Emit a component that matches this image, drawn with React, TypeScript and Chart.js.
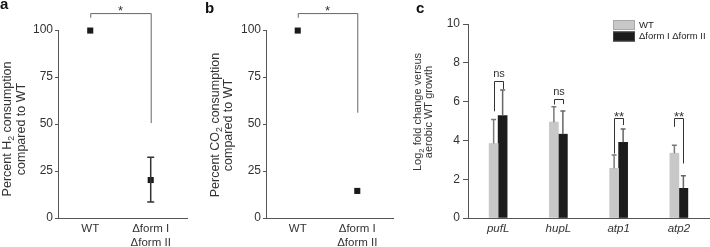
import React, { useEffect, useRef } from "react";
import { Chart, registerables } from "chart.js";

Chart.register(...registerables);

const FONT = "'Liberation Sans', Arial, Helvetica, sans-serif";
const TEXT = "#333333";
const AXIS = "#555555";

// ---------- Panels a & b ----------
const abPositions = [1, 2];
const abCategoryLabels: (string | string[])[] = ["WT", ["Δform I", "Δform II"]];
const abTicks = [0, 25, 50, 75, 100];
const h2Values = [99.7, 20.2];
const h2ErrLow: (number | null)[] = [null, 8.5];
const h2ErrHigh: (number | null)[] = [null, 32.3];
const co2Values = [99.7, 14.4];
const aBracket = [109, 106.5, 50.5]; // top, left end, right end
const bBracket = [109, 106.5, 56];
const abSigLabel = "*";

// ---------- Panel c ----------
const genes = ["pufL", "hupL", "atp1", "atp2"];
const seriesLabels = ["WT", "Δform I Δform II"];
const wtValues = [3.84, 4.94, 2.56, 3.34];
const wtErrTop = [5.08, 5.73, 3.25, 3.75];
const koValues = [5.28, 4.32, 3.9, 1.53];
const koErrTop = [6.6, 5.52, 4.59, 2.18];
const sigLabels = ["ns", "ns", "**", "**"];
const sigTop = [7.08, 6.11, 5.13, 5.13];
const sigLeftEnd = [5.5, 5.85, 3.32, 4.7];
const sigRightEnd = [6.65, 5.87, 4.79, 2.81];

type Seg = { t: string; sub?: boolean };

function drawRotatedLine(ctx: CanvasRenderingContext2D, segs: Seg[], cx: number, cy: number, size: number) {
  ctx.save();
  ctx.translate(cx, cy);
  ctx.rotate(-Math.PI / 2);
  ctx.textBaseline = "middle";
  ctx.textAlign = "left";
  ctx.fillStyle = TEXT;
  const main = `${size}px ${FONT}`;
  const sub = `${(size * 0.7).toFixed(1)}px ${FONT}`;
  let total = 0;
  for (const s of segs) {
    ctx.font = s.sub ? sub : main;
    total += ctx.measureText(s.t).width;
  }
  let x = -total / 2;
  for (const s of segs) {
    ctx.font = s.sub ? sub : main;
    ctx.fillText(s.t, x, s.sub ? size * 0.32 : 0);
    x += ctx.measureText(s.t).width;
  }
  ctx.restore();
}

function decorPlugin(opts: {
  letter: string;
  letterX: number;
  letterY: number;
  lines: Seg[][];
  lineXs: number[];
  titleY: number;
  titleSize: number;
}) {
  return {
    id: "decor",
    afterDraw(chart: any) {
      const ctx: CanvasRenderingContext2D = chart.ctx;
      ctx.save();
      ctx.fillStyle = "#111";
      ctx.font = `bold 15px ${FONT}`;
      ctx.textBaseline = "alphabetic";
      ctx.textAlign = "left";
      ctx.fillText(opts.letter, opts.letterX, opts.letterY);
      ctx.restore();
      opts.lines.forEach((l, i) => drawRotatedLine(ctx, l, opts.lineXs[i], opts.titleY, opts.titleSize));
    },
  };
}

function abAnnotPlugin(errLow: (number | null)[], errHigh: (number | null)[], bracket: number[]) {
  return {
    id: "abAnnot",
    afterDatasetsDraw(chart: any) {
      const ctx: CanvasRenderingContext2D = chart.ctx;
      const xs = chart.scales.x;
      const ys = chart.scales.y;
      ctx.save();
      // error bars
      ctx.strokeStyle = "#333";
      ctx.lineWidth = 1.5;
      abPositions.forEach((p, i) => {
        const lo = errLow[i];
        const hi = errHigh[i];
        if (lo == null || hi == null) return;
        const x = xs.getPixelForValue(p);
        const y1 = ys.getPixelForValue(lo);
        const y2 = ys.getPixelForValue(hi);
        ctx.beginPath();
        ctx.moveTo(x, y1);
        ctx.lineTo(x, y2);
        ctx.moveTo(x - 3.5, y1);
        ctx.lineTo(x + 3.5, y1);
        ctx.moveTo(x - 3.5, y2);
        ctx.lineTo(x + 3.5, y2);
        ctx.stroke();
      });
      // bracket
      const xl = xs.getPixelForValue(abPositions[0]);
      const xr = xs.getPixelForValue(abPositions[1]);
      const yt = ys.getPixelForValue(bracket[0]);
      ctx.strokeStyle = "#666";
      ctx.lineWidth = 1;
      ctx.beginPath();
      ctx.moveTo(xl + 0.5, ys.getPixelForValue(bracket[1]));
      ctx.lineTo(xl + 0.5, yt + 0.5);
      ctx.lineTo(xr + 0.5, yt + 0.5);
      ctx.lineTo(xr + 0.5, ys.getPixelForValue(bracket[2]));
      ctx.stroke();
      ctx.fillStyle = TEXT;
      ctx.font = `13px ${FONT}`;
      ctx.textAlign = "center";
      ctx.textBaseline = "alphabetic";
      ctx.fillText(abSigLabel, (xl + xr) / 2, yt + 1.5);
      ctx.restore();
    },
  };
}

function abConfig(values: number[], yWidth: number, padRight: number, plugins: any[]): any {
  return {
    type: "scatter",
    data: {
      datasets: [
        {
          data: abPositions.map((p, i) => ({ x: p, y: values[i] })),
          pointStyle: "rect",
          pointRadius: 4.3,
          pointBorderWidth: 0,
          backgroundColor: "#1a1a1a",
          borderColor: "#1a1a1a",
          clip: false,
        },
      ],
    },
    options: {
      animation: false,
      responsive: false,
      devicePixelRatio: 1,
      layout: { padding: { top: 30, right: padRight, left: 0, bottom: 0 } },
      plugins: { legend: { display: false }, tooltip: { enabled: false } },
      scales: {
        x: {
          type: "linear",
          min: 0.467,
          max: 2.6,
          grid: { display: false, drawTicks: false },
          border: { display: true, color: AXIS, width: 1 },
          afterBuildTicks: (s: any) => {
            s.ticks = abPositions.map((v) => ({ value: v }));
          },
          ticks: {
            color: TEXT,
            font: { family: FONT, size: 11.5 },
            padding: 4,
            maxRotation: 0,
            autoSkip: false,
            callback: (v: number) => {
              const i = abPositions.indexOf(v);
              return i >= 0 ? abCategoryLabels[i] : "";
            },
          },
          afterFit: (s: any) => {
            s.height = 29;
          },
        },
        y: {
          min: 0,
          max: 100,
          afterBuildTicks: (s: any) => {
            s.ticks = abTicks.map((v) => ({ value: v }));
          },
          grid: { display: true, drawOnChartArea: false, drawTicks: true, tickLength: 3, color: AXIS },
          border: { display: true, color: AXIS, width: 1 },
          ticks: { color: TEXT, font: { family: FONT, size: 12 }, padding: 2 },
          afterFit: (s: any) => {
            s.width = yWidth;
          },
        },
      },
    },
    plugins,
  };
}

const cAnnotPlugin = {
  id: "cAnnot",
  afterDatasetsDraw(chart: any) {
    const ctx: CanvasRenderingContext2D = chart.ctx;
    const ys = chart.scales.y;
    const m0 = chart.getDatasetMeta(0).data;
    const m1 = chart.getDatasetMeta(1).data;
    ctx.save();
    ctx.lineWidth = 1.5;
    const errs = [
      { meta: m0, vals: wtValues, tops: wtErrTop, color: "#7a7a7a" },
      { meta: m1, vals: koValues, tops: koErrTop, color: "#666" },
    ];
    for (const e of errs) {
      ctx.strokeStyle = e.color;
      e.meta.forEach((bar: any, i: number) => {
        const x = bar.x;
        const y1 = ys.getPixelForValue(e.vals[i]);
        const y2 = ys.getPixelForValue(e.tops[i]);
        ctx.beginPath();
        ctx.moveTo(x, y1);
        ctx.lineTo(x, y2);
        ctx.moveTo(x - 2.5, y2);
        ctx.lineTo(x + 2.5, y2);
        ctx.stroke();
      });
    }
    // significance brackets
    ctx.strokeStyle = "#333";
    ctx.lineWidth = 1;
    genes.forEach((_, i) => {
      const xl = Math.round(m0[i].x) + 0.5;
      const xr = Math.round(m1[i].x) + 0.5;
      const yt = Math.round(ys.getPixelForValue(sigTop[i])) + 0.5;
      ctx.beginPath();
      ctx.moveTo(xl, ys.getPixelForValue(sigLeftEnd[i]));
      ctx.lineTo(xl, yt);
      ctx.lineTo(xr, yt);
      ctx.lineTo(xr, ys.getPixelForValue(sigRightEnd[i]));
      ctx.stroke();
      ctx.fillStyle = TEXT;
      ctx.textAlign = "center";
      ctx.textBaseline = "alphabetic";
      if (sigLabels[i] === "ns") {
        ctx.font = `11px ${FONT}`;
        ctx.fillText(sigLabels[i], (xl + xr) / 2, yt - 5);
      } else {
        ctx.font = `13px ${FONT}`;
        ctx.fillText(sigLabels[i], (xl + xr) / 2, yt + 2.7);
      }
    });
    // legend
    const colors = [
      ["#c8c8c8", "#a8a8a8"],
      ["#1c1c1c", "#444"],
    ];
    const boxX = 208;
    const boxY = [20, 31.5];
    seriesLabels.forEach((lab, i) => {
      ctx.fillStyle = colors[i][0];
      ctx.fillRect(boxX, boxY[i], 22, 10);
      ctx.strokeStyle = colors[i][1];
      ctx.lineWidth = 1;
      ctx.strokeRect(boxX + 0.5, boxY[i] + 0.5, 21, 9);
      ctx.fillStyle = "#222";
      ctx.font = `9.5px ${FONT}`;
      ctx.textAlign = "left";
      ctx.textBaseline = "middle";
      ctx.fillText(lab, boxX + 26, boxY[i] + 5);
    });
    ctx.restore();
  },
};

function cConfig(): any {
  return {
    type: "bar",
    data: {
      labels: genes,
      datasets: [
        { label: seriesLabels[0], data: wtValues, backgroundColor: "#c8c8c8", borderWidth: 0, barThickness: 9 },
        { label: seriesLabels[1], data: koValues, backgroundColor: "#1c1c1c", borderWidth: 0, barThickness: 9 },
      ],
    },
    options: {
      animation: false,
      responsive: false,
      devicePixelRatio: 1,
      layout: { padding: { top: 24, right: 1, left: 0, bottom: 0 } },
      plugins: { legend: { display: false }, tooltip: { enabled: false } },
      scales: {
        x: {
          type: "category",
          offset: true,
          grid: { display: false, drawTicks: false },
          border: { display: true, color: AXIS, width: 1 },
          ticks: { color: TEXT, font: { family: FONT, size: 11.5, style: "italic" }, padding: 4, maxRotation: 0 },
          afterFit: (s: any) => {
            s.height = 29;
          },
        },
        y: {
          min: 0,
          max: 10,
          ticks: { stepSize: 2, color: TEXT, font: { family: FONT, size: 12 }, padding: 3 },
          grid: { display: true, drawOnChartArea: false, drawTicks: true, tickLength: 5, color: AXIS },
          border: { display: true, color: AXIS, width: 1 },
          afterFit: (s: any) => {
            s.width = 63;
          },
        },
      },
    },
    plugins: [
      cAnnotPlugin,
      decorPlugin({
        letter: "c",
        letterX: 11,
        letterY: 13,
        lines: [
          [{ t: "Log" }, { t: "2", sub: true }, { t: " fold change versus" }],
          [{ t: "aerobic WT growth" }],
        ],
        lineXs: [13, 24],
        titleY: 112,
        titleSize: 11,
      }),
    ],
  };
}

export default function App() {
  const refA = useRef<HTMLCanvasElement>(null);
  const refB = useRef<HTMLCanvasElement>(null);
  const refC = useRef<HTMLCanvasElement>(null);

  useEffect(() => {
    const a = new Chart(
      refA.current!,
      abConfig(h2Values, 58, 13, [
        abAnnotPlugin(h2ErrLow, h2ErrHigh, aBracket),
        decorPlugin({
          letter: "a",
          letterX: 0,
          letterY: 8.5,
          lines: [
            [{ t: "Percent H" }, { t: "2", sub: true }, { t: " consumption" }],
            [{ t: "compared to WT" }],
          ],
          lineXs: [8, 22],
          titleY: 129,
          titleSize: 12.5,
        }),
      ])
    );
    const b = new Chart(
      refB.current!,
      abConfig(co2Values, 66, 12, [
        abAnnotPlugin([null, null], [null, null], bBracket),
        decorPlugin({
          letter: "b",
          letterX: 5,
          letterY: 13,
          lines: [
            [{ t: "Percent CO" }, { t: "2", sub: true }, { t: " consumption" }],
            [{ t: "compared to WT" }],
          ],
          lineXs: [16, 29],
          titleY: 125,
          titleSize: 12.5,
        }),
      ])
    );
    const c = new Chart(refC.current!, cConfig());
    return () => {
      a.destroy();
      b.destroy();
      c.destroy();
    };
  }, []);

  return (
    <div style={{ position: "fixed", left: 0, top: 0, width: 710, height: 247, background: "#fff" }}>
      <canvas ref={refA} width={200} height={247} style={{ position: "absolute", left: 0, top: 0 }} />
      <canvas ref={refB} width={205} height={247} style={{ position: "absolute", left: 200, top: 0 }} />
      <canvas ref={refC} width={305} height={247} style={{ position: "absolute", left: 405, top: 0 }} />
    </div>
  );
}
